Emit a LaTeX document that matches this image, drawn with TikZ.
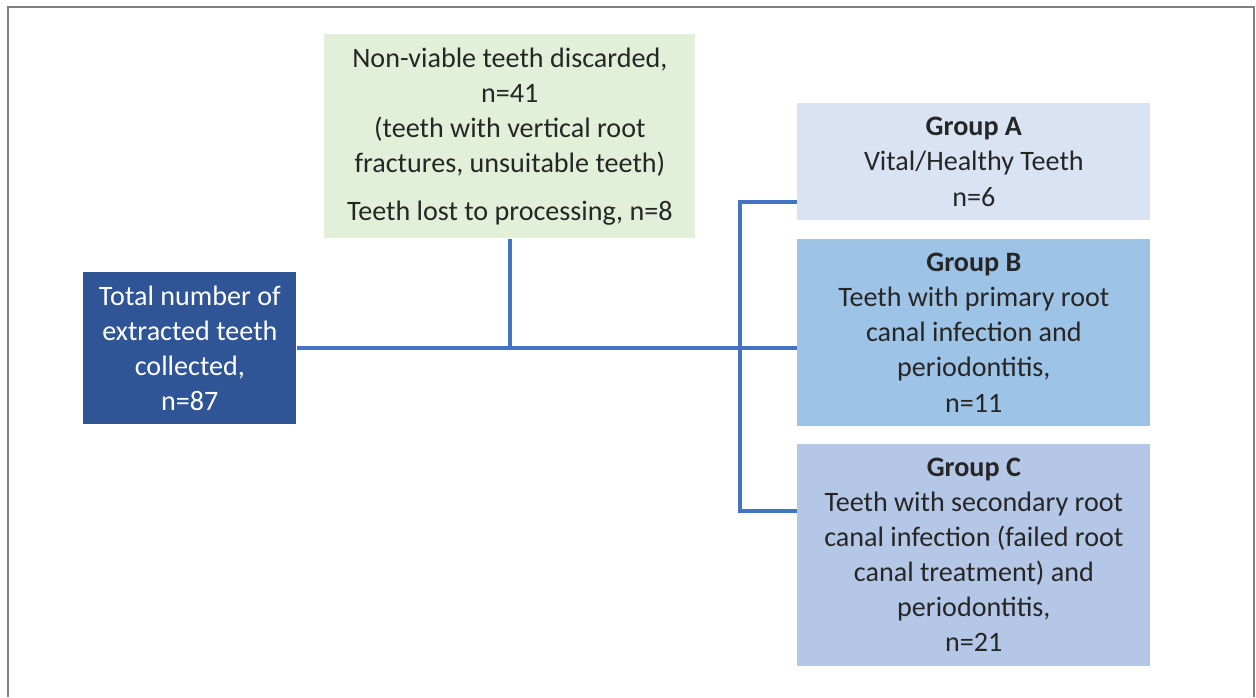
\documentclass[tikz,border=0pt]{standalone}
\usepackage{fontspec}
\setmainfont{Carlito}
\usepackage{xcolor}
\usepackage{tikz}
\usetikzlibrary{positioning, calc}
\definecolor{framegray}{HTML}{7F7F7F}
\definecolor{linkblue}{HTML}{4472C4}
\definecolor{totalblue}{HTML}{2F5597}
\definecolor{discardgreen}{HTML}{E2F0D9}
\definecolor{groupa}{HTML}{DAE3F3}
\definecolor{groupb}{HTML}{9DC3E6}
\definecolor{groupc}{HTML}{B4C7E7}
\definecolor{inktext}{HTML}{262626}

\begin{document}
\begin{tikzpicture}[
  every node/.style={font=\fontsize{16}{20}\selectfont},
  box/.style={rectangle, inner sep=0pt, align=center, text=inktext,
              anchor=north west},
  groupbox/.style={box, minimum width=7.06cm},
  link/.style={color=linkblue, line width=2.2pt},
  frameline/.style={color=framegray, line width=1.1pt}
]
\useasboundingbox (0,0) rectangle (25.12,-13.94);
% Frame
\draw[frameline] (0.16,-13.94) -- (0.16,-0.14) -- (25.08,-0.14) -- (25.08,-13.94);
% Total
\node[box, fill=totalblue, text=white, minimum width=4.26cm,
      minimum height=3.04cm] (total) at (1.66,-5.44)
      {Total number of\\extracted teeth\\collected,\\n=87};
% Discarded
\node[box, fill=discardgreen, minimum width=7.42cm,
      minimum height=4.08cm] (discard) at (6.48,-0.68)
      {Non-viable teeth discarded,\\n=41\\(teeth with vertical root\\
       fractures, unsuitable teeth)\\[7pt]Teeth lost to processing, n=8};
% Groups
\node[groupbox, fill=groupa, minimum height=2.34cm] (ga) at (15.94,-2.06)
      {\textbf{Group A}\\Vital/Healthy Teeth\\n=6};
\node[groupbox, fill=groupb, minimum height=3.74cm, anchor=north,
      below=0.36cm of ga] (gb)
      {\textbf{Group B}\\Teeth with primary root\\canal infection and\\
       periodontitis,\\n=11};
\node[groupbox, fill=groupc, minimum height=4.44cm, anchor=north,
      below=0.34cm of gb] (gc)
      {\textbf{Group C}\\Teeth with secondary root\\canal infection (failed root\\
       canal treatment) and\\periodontitis,\\n=21};
% Bracket ends
\coordinate (brtop) at (14.8,-4.04);
\coordinate (brbot) at (14.8,-10.22);
% Links
\draw[link] (total.east) -- (total.east -| gb.west);
\draw[link] (discard.south) -- (discard.south |- total.east);
\draw[link] (brtop -| ga.west) -- (brtop) -- (brbot) -- (brbot -| gc.west);
\end{tikzpicture}
\end{document}
